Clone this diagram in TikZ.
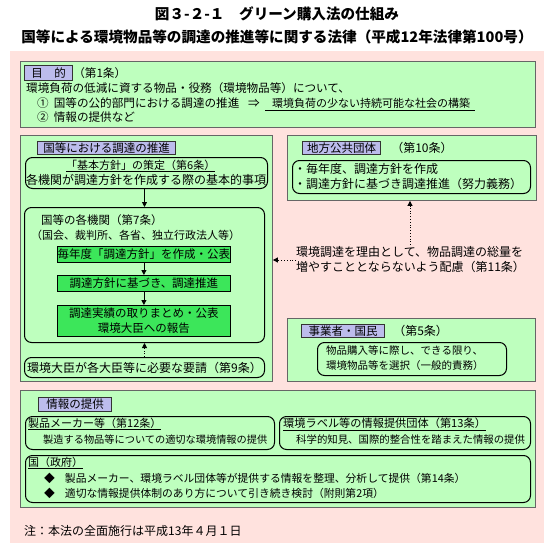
\documentclass[tikz,border=0pt]{standalone}
\usepackage{fontspec}
\setmainfont{Noto Sans CJK JP}
\usetikzlibrary{arrows.meta,positioning,calc}
\definecolor{BG}{HTML}{FFE2DE}
\definecolor{PN}{HTML}{BEFFBE}
\definecolor{TG}{HTML}{BCBCEC}
\definecolor{GB}{HTML}{3CE65A}
\newcommand{\fs}[1]{\fontsize{#1}{15}\selectfont}
\tikzset{
  dims/.style 2 args={minimum width=#1, minimum height=#2, anchor=north west},
  panel/.style={draw=black!60, line width=0.9pt, fill=PN, inner sep=0pt},
  tag/.style={draw=black!80, line width=1.1pt, fill=TG, inner sep=0pt, font=\fs{11.5}},
  rbox/.style={draw=black, line width=1pt, rounded corners=7pt, inner sep=0pt, font=\fs{12}},
  gbox/.style={draw=black, line width=0.8pt, fill=GB, inner sep=0pt, align=center, font=\fs{11.5}},
  txt/.style={anchor=west, inner sep=0pt, font=\fs{12}},
  arr/.style={-{Triangle[width=5pt,length=5pt]}, line width=0.8pt},
  dotarr/.style={arr, dotted},
}
\begin{document}
\begin{tikzpicture}[x=1pt,y=-1pt]
\useasboundingbox (0,0) rectangle (554,554);
\fill[white] (0,0) rectangle (554,554);
\fill[BG] (10,51) rectangle (544,543);
% title
\node[font=\fontsize{14.6}{16}\selectfont\bfseries] (title1) at (277,14) {図３-２-１　グリーン購入法の仕組み};
\node[font=\fontsize{14.6}{16}\selectfont\bfseries] (title2) at (277,37) {国等による環境物品等の調達の推進等に関する法律（平成12年法律第100号）};
% purpose
\node[panel, dims={515pt}{66pt}] (purpose) at (20,61) {};
\node[tag, dims={48pt}{15pt}] (purposetag) at (24,65) {目　的};
\node[txt, font=\fs{11.6}, right=0pt of purposetag] (art1) {（第1条）};
\node[txt, font=\fs{11.6}] (pline1) at (26,88) {環境負荷の低減に資する物品・役務（環境物品等）について、};
\node[txt, font=\fs{11.6}] (pline2) at (37,103) {①\hspace{5pt}国等の公的部門における調達の推進};
\node[txt, font=\fs{11.6}] (imply) at (248,103) {⇒};
\node[txt, font=\fs{11}] (goal) at (272,103) {環境負荷の少ない持続可能な社会の構築};
\draw[line width=0.8pt] ($(goal.south west)+(-7,2.5)$) -- ($(goal.south east)+(5,2.5)$);
\node[txt, font=\fs{11.6}] (pline3) at (37,117) {②\hspace{5pt}情報の提供など};
% national procurement
\node[panel, dims={252pt}{246pt}] (kuni) at (20,135) {};
\node[tag, dims={138pt}{13pt}] (kunitag) at (37,141) {国等における調達の推進};
\node[rbox, dims={242pt}{31pt}] (kihon) at (25,157) {};
\node[txt, font=\fs{11}] (kihon1) at (66,166) {\underline{「基本方針」の策定（第6条）}};
\node[txt, anchor=center] (kihon2) at (146,180) {各機関が調達方針を作成する際の基本的事項};
\node[rbox, dims={240pt}{135pt}] (kikan) at (24,207) {};
\node[txt, font=\fs{11.5}] (kikan1) at (41,220) {国等の各機関（第7条）};
\node[txt, font=\fs{11}] (kikan2) at (31,235) {（国会、裁判所、各省、独立行政法人等）};
\node[gbox, dims={173pt}{16pt}] (step1) at (57,246) {毎年度「調達方針」を作成・公表};
\node[gbox, dims={173pt}{16pt}] (step2) at (57,275) {調達方針に基づき、調達推進};
\node[gbox, dims={173pt}{31pt}] (step3) at (57,305) {調達実績の取りまとめ・公表\\環境大臣への報告};
\node[rbox, dims={240pt}{20pt}] (yosei) at (24,357) {環境大臣が各大臣等に必要な要請（第9条）};
\draw[arr] (kikan.north |- kihon.south) -- (kikan.north);
\draw[arr] (step1.south) -- (step2.north);
\draw[arr] (step2.south) -- (step3.north);
\draw[dotarr] (yosei.north) -- (kikan.south);
% local governments
\node[panel, dims={249pt}{65pt}] (chiho) at (287,135) {};
\node[tag, dims={78pt}{13pt}] (chihotag) at (302,141) {地方公共団体};
\node[txt, right=10pt of chihotag] (art10) {（第10条）};
\node[rbox, dims={238pt}{33pt}] (chihobox) at (292,160) {};
\node[txt] (chiho1) at (294,169) {・毎年度、調達方針を作成};
\node[txt] (chiho2) at (294,184) {・調達方針に基づき調達推進（努力義務）};
% consideration
\node[txt, align=left] (hairyo) at (296,260) {環境調達を理由として、物品調達の総量を\\増やすこととならないよう配慮（第11条）};
\coordinate (hairyotop) at (410,245);
\draw[dotarr] (hairyotop) -- (hairyotop |- chiho.south);
\draw[dotarr] (hairyo.west) -- (hairyo.west -| kuni.east);
% businesses and citizens
\node[panel, dims={248pt}{63pt}] (jigyo) at (287,318) {};
\node[tag, dims={83pt}{13pt}] (jigyotag) at (301,324) {事業者・国民};
\node[txt, right=8pt of jigyotag] (art5) {（第5条）};
\node[rbox, dims={189pt}{33pt}] (jigyobox) at (317,342) {};
\node[txt, font=\fs{10.5}, align=left] (jigyo1) at (326,358.5) {物品購入等に際し、できる限り、\\環境物品等を選択（一般的責務）};
% information
\node[panel, dims={515pt}{117pt}] (joho) at (20,390) {};
\node[tag, dims={73pt}{14pt}] (johotag) at (38,397) {情報の提供};
\node[rbox, dims={249pt}{33pt}] (maker) at (25,416) {};
\node[txt, font=\fs{11}] (maker1) at (28,424) {\underline{製品メーカー等（第12条）}};
\node[txt, font=\fs{10.2}] (maker2) at (43,440) {製造する物品等についての適切な環境情報の提供};
\node[rbox, dims={251pt}{33pt}] (ecolabel) at (279,416) {};
\node[txt, font=\fs{11.2}] (ecolabel1) at (283,424) {\underline{環境ラベル等の情報提供団体（第13条）}};
\node[txt, font=\fs{10.4}] (ecolabel2) at (296,440) {科学的知見、国際的整合性を踏まえた情報の提供};
\node[rbox, dims={505pt}{47pt}] (seifu) at (25,455) {};
\node[txt, font=\fs{11}] (seifu1) at (28,463) {\underline{国（政府）}};
\node[txt, font=\fs{10.8}] (seifu2) at (44,478) {◆\hspace{10pt}製品メーカー、環境ラベル団体等が提供する情報を整理、分析して提供（第14条）};
\node[txt, font=\fs{10.8}] (seifu3) at (44,493) {◆\hspace{10pt}適切な情報提供体制のあり方について引き続き検討（附則第2項）};
% note
\node[txt] (note) at (24,531) {注：本法の全面施行は平成13年４月１日};
\end{tikzpicture}
\end{document}
